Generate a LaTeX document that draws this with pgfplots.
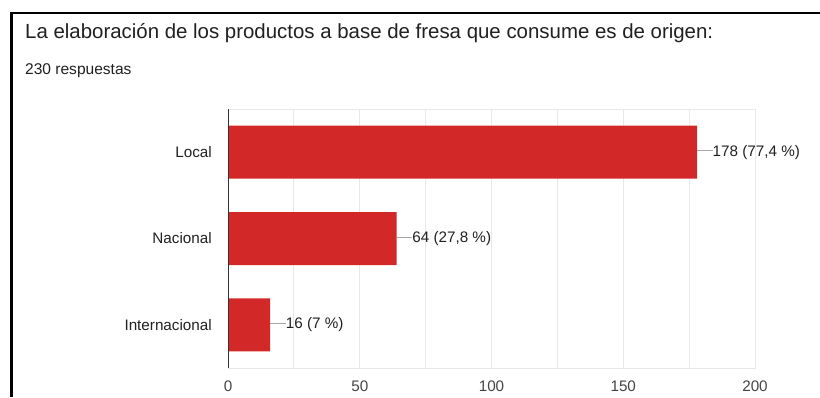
\documentclass[border=0pt]{standalone}
\usepackage{pgfplots}
\pgfplotsset{compat=1.18}
\usepackage{fontspec}
\setmainfont{Liberation Sans}
\definecolor{barred}{RGB}{211,40,40}
\definecolor{gridc}{RGB}{232,232,232}
\definecolor{txt}{RGB}{33,33,33}
\definecolor{ticktxt}{RGB}{68,68,68}
\begin{document}
\begin{tikzpicture}[x=1bp,y=1bp]
\useasboundingbox (0,0) rectangle (820,397);
\fill[white] (0,0) rectangle (820,397);
\draw[black, line width=2.6bp] (11.3,0) -- (11.3,384) -- (820,384);
\node[anchor=base west, font=\fontsize{20.5}{22}\selectfont, text=txt, inner sep=0] at (25,359) {La elaboración de los productos a base de fresa que consume es de origen:};
\node[anchor=base west, font=\fontsize{15.6}{17}\selectfont, text=txt, inner sep=0] at (25,323) {230 respuestas};
\begin{axis}[
  at={(228bp,29bp)}, anchor=south west, scale only axis,
  width=527bp, height=259bp,
  xbar, bar width=53bp,
  xmin=0, xmax=200, ymin=-0.5, ymax=2.5, y dir=reverse,
  ytick={0,1,2}, yticklabels={Local,Nacional,Internacional},
  xtick={0,50,100,150,200}, minor xtick={25,75,125,175},
  xmajorgrids, xminorgrids,
  major grid style={gridc, line width=0.8bp},
  minor grid style={gridc, line width=0.8bp},
  axis line style={gridc, line width=0.8bp},
  major tick length=0pt, minor tick length=0pt,
  /pgf/number format/assume math mode=true,
  tick label style={font=\fontsize{15.3}{17}\selectfont, text=ticktxt},
  xticklabel style={anchor=base, inner sep=0pt, yshift=-23bp},
  yticklabel style={anchor=east, inner sep=0pt, xshift=-16bp, text=txt},
  point meta=explicit symbolic,
  nodes near coords={\textcolor{gray!70}{\rule[0.33em]{15.5bp}{0.9bp}}\pgfplotspointmeta},
  every node near coord/.append style={anchor=west, inner sep=0pt, xshift=0pt, font=\fontsize{15.3}{17}\selectfont, text=txt},
  clip=false,
]
\addplot[fill=barred, draw=none] coordinates {
  (178,0) [{178 (77,4 \%)}]
  (64,1) [{64 (27,8 \%)}]
  (16,2) [{16 (7 \%)}]
};
\draw[black!80, line width=1bp] (axis cs:0,-0.5) -- (axis cs:0,2.5);
\end{axis}
\end{tikzpicture}
\end{document}
